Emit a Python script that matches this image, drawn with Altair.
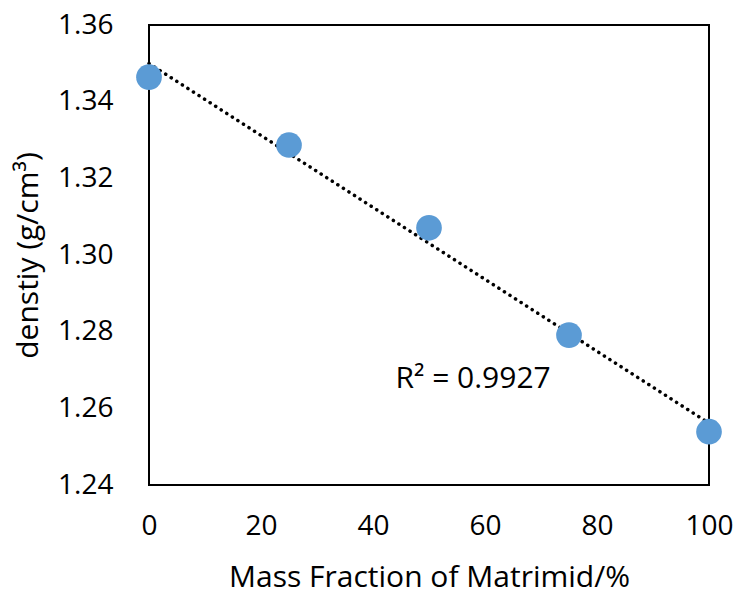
import altair as alt
import pandas as pd
import numpy as np

mass_fraction = [0, 25, 50, 75, 100]
density = [1.3464, 1.3287, 1.3071, 1.2791, 1.2539]
r2_label = "R² = 0.9927"
x_ticks = [0, 20, 40, 60, 80, 100]
y_ticks = [1.24, 1.26, 1.28, 1.30, 1.32, 1.34, 1.36]

df = pd.DataFrame({"x": mass_fraction, "y": density})
slope, intercept = np.polyfit(mass_fraction, density, 1)
trend = pd.DataFrame({"x": [0, 100], "y": [intercept, intercept + slope * 100]})

FONT = "Open Sans"

xs = alt.Scale(domain=[0, 100], nice=False)
ys = alt.Scale(domain=[1.24, 1.36], nice=False, zero=False)

xaxis = alt.Axis(values=x_ticks, format="d", title="Mass Fraction of Matrimid/%",
                 labelPadding=27, titlePadding=22)
yaxis = alt.Axis(values=y_ticks, format=".2f", title="denstiy (g/cm³)",
                 labelPadding=36, titlePadding=14)

line = alt.Chart(trend).mark_line(color="black", strokeDash=[0.1, 6.5], strokeWidth=3.5,
                                  strokeCap="round").encode(
    x=alt.X("x:Q", scale=xs, axis=xaxis),
    y=alt.Y("y:Q", scale=ys, axis=yaxis),
)

points = alt.Chart(df).mark_circle(size=660, color="#5B9BD5", opacity=1).encode(
    x=alt.X("x:Q", scale=xs, axis=xaxis),
    y=alt.Y("y:Q", scale=ys, axis=yaxis),
)

label = alt.Chart(pd.DataFrame({"x": [44.0], "y": [1.2677], "t": [r2_label]})).mark_text(
    align="left", baseline="middle", fontSize=30, font=FONT, color="black"
).encode(x=alt.X("x:Q", scale=xs, axis=xaxis), y=alt.Y("y:Q", scale=ys, axis=yaxis), text="t:N")

chart = (line + points + label).properties(
    width=560, height=460,
    autosize=alt.AutoSizeParams(type="none"),
    padding={"left": 149, "top": 25, "right": 29, "bottom": 110},
).configure_view(stroke="black", strokeWidth=2).configure_axis(
    grid=False, domain=False, ticks=False, labelFontSize=28, titleFontSize=30,
    labelFont=FONT, titleFont=FONT, labelColor="black", titleColor="black",
    titleFontWeight="normal", labelFlush=False, labelOverlap=False,
)

chart.save("out.html", embed_options={"renderer": "svg", "actions": False})
